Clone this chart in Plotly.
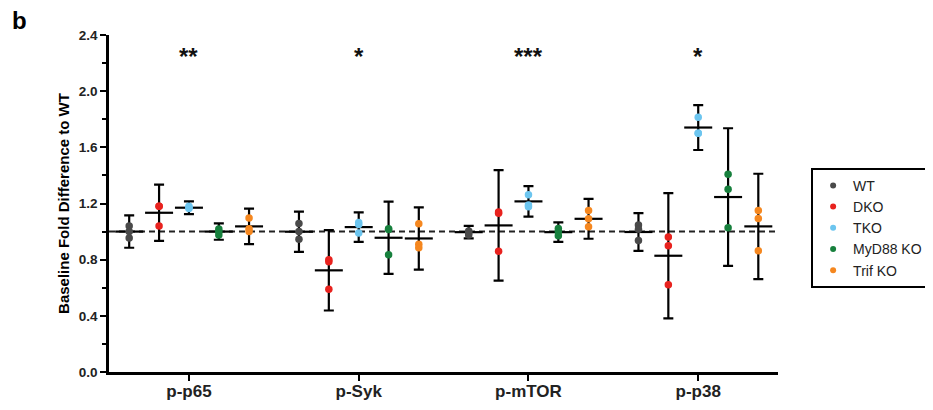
import plotly.graph_objects as go

categories = ["p-p65", "p-Syk", "p-mTOR", "p-p38"]
significance = ["**", "*", "***", "*"]
groups = ["WT", "DKO", "TKO", "MyD88 KO", "Trif KO"]
colors = ["#4a4a4a", "#e8221e", "#6cc5ef", "#17803d", "#f5871f"]

# individual replicate values per category (p-p65, p-Syk, p-mTOR, p-p38)
wt_points = [[1.04, 1.00, 0.955], [1.058, 1.00, 0.945], [1.005, 0.99, 0.975], [1.046, 1.016, 0.937]]
dko_points = [[1.18, 1.18, 1.04], [0.80, 0.785, 0.59], [1.14, 1.13, 0.86], [0.961, 0.899, 0.621]]
tko_points = [[1.18, 1.17, 1.165], [1.065, 1.05, 0.99], [1.262, 1.19, 1.177], [1.815, 1.70, 1.70]]
myd88_points = [[1.018, 1.00, 0.975], [1.02, 1.015, 0.835], [1.022, 1.00, 0.97], [1.409, 1.302, 1.027]]
trif_points = [[1.096, 1.02, 1.00], [1.056, 0.909, 0.885], [1.15, 1.091, 1.034], [1.15, 1.093, 0.863]]

# group means and error-bar half-lengths
wt_mean = [1.00, 0.999, 0.996, 0.997]
wt_err = [0.115, 0.143, 0.045, 0.134]
dko_mean = [1.134, 0.724, 1.044, 0.828]
dko_err = [0.20, 0.286, 0.393, 0.446]
tko_mean = [1.17, 1.032, 1.215, 1.741]
tko_err = [0.045, 0.105, 0.109, 0.16]
myd88_mean = [1.00, 0.956, 0.996, 1.246]
myd88_err = [0.058, 0.257, 0.07, 0.49]
trif_mean = [1.037, 0.951, 1.091, 1.037]
trif_err = [0.127, 0.222, 0.142, 0.375]

all_points = [wt_points, dko_points, tko_points, myd88_points, trif_points]
all_means = [wt_mean, dko_mean, tko_mean, myd88_mean, trif_mean]
all_errs = [wt_err, dko_err, tko_err, myd88_err, trif_err]
offsets = [-0.352, -0.176, 0.0, 0.176, 0.354]

FONT = "Liberation Sans, Arial, Helvetica, sans-serif"

fig = go.Figure()

# mean + error bars (drawn below dots)
for g, name in enumerate(groups):
    xs = [i + offsets[g] for i in range(len(categories))]
    fig.add_trace(go.Scatter(
        x=xs, y=all_means[g], mode="markers", showlegend=False, hoverinfo="skip",
        marker=dict(symbol="line-ew", size=20, color="black",
                    line=dict(width=2.2, color="black")),
        error_y=dict(type="data", array=all_errs[g], visible=True,
                     color="black", thickness=2.2, width=5),
    ))

# replicate dots
for g, name in enumerate(groups):
    xs, ys = [], []
    for i in range(len(categories)):
        for v in all_points[g][i]:
            xs.append(i + offsets[g])
            ys.append(v)
    fig.add_trace(go.Scatter(
        x=xs, y=ys, mode="markers", name=name, showlegend=False,
        marker=dict(size=7.5, color=colors[g]),
    ))

# legend entries (smaller dots, as in the reference legend)
for g, name in enumerate(groups):
    fig.add_trace(go.Scatter(
        x=[None], y=[None], mode="markers", name=name,
        marker=dict(size=6, color=colors[g]),
    ))

# reference line at 1.0
fig.add_shape(type="line", xref="paper", yref="y", x0=0, x1=1, y0=1.0, y1=1.0,
              line=dict(color="#222222", width=2, dash="6px,4px"), layer="below")

# significance stars
for i, s in enumerate(significance):
    fig.add_annotation(x=i, y=2.25, text=s, showarrow=False, xref="x", yref="y",
                       font=dict(family=FONT, size=24, color="#111111", weight="bold"))

# panel label
fig.add_annotation(x=-0.148, y=1.09, xref="paper", yref="paper", text="b",
                   showarrow=False, xanchor="left", yanchor="top",
                   font=dict(family=FONT, size=24, color="black", weight="bold"))

fig.update_layout(
    width=933, height=410,
    margin=dict(l=101, r=158, t=27, b=46),
    plot_bgcolor="white", paper_bgcolor="white",
    font=dict(family=FONT, color="black"),
    xaxis=dict(
        range=[-0.471, 3.47], tickvals=list(range(len(categories))), ticktext=categories,
        showgrid=False, zeroline=False, showline=True, linecolor="black", linewidth=2.5,
        ticks="outside", ticklen=6, tickwidth=2, tickcolor="black", automargin=False,
        ticklabelstandoff=-4,
        tickfont=dict(family=FONT, size=17, color="#222222", weight="bold"),
    ),
    yaxis=dict(
        range=[0, 2.4], tickvals=[0, 0.4, 0.8, 1.2, 1.6, 2.0, 2.4],
        ticktext=["0.0", "0.4", "0.8", "1.2", "1.6", "2.0", "2.4"],
        showgrid=False, zeroline=False, showline=True, linecolor="black", linewidth=2.5,
        ticks="outside", ticklen=6, tickwidth=2, tickcolor="black", automargin=False,
        minor=dict(tickvals=[0.2, 0.6, 1.0, 1.4, 1.8, 2.2], ticks="outside",
                   ticklen=4, tickwidth=2, tickcolor="black"),
        tickfont=dict(family=FONT, size=13.5, color="#222222", weight="bold"),
        title=dict(text="Baseline Fold Difference to WT", standoff=6,
                   font=dict(family=FONT, size=15, color="black", weight="bold")),
    ),
    legend=dict(
        x=1.0495, y=0.606, xanchor="left", yanchor="top",
        bordercolor="black", borderwidth=2, bgcolor="white",
        font=dict(family=FONT, size=14, color="#222222"),
    ),
)

fig.write_html("out.html")
